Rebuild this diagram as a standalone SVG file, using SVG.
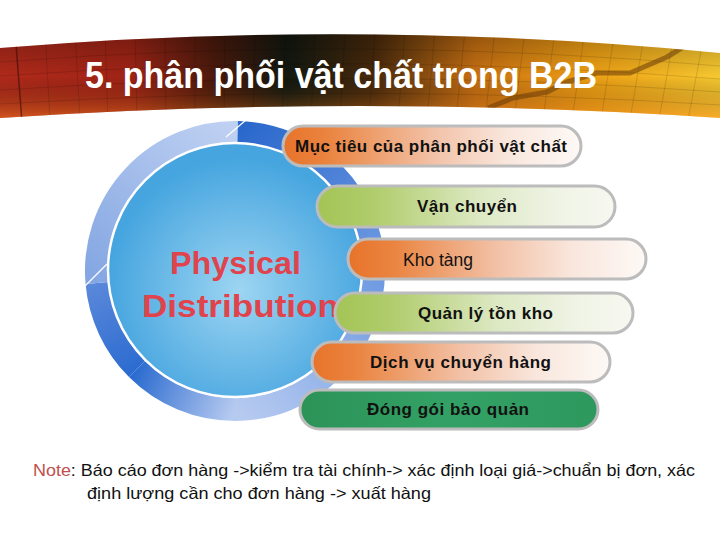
<svg xmlns="http://www.w3.org/2000/svg" width="720" height="540" viewBox="0 0 720 540">
<style>
.pill{stroke:#bcbcbc;stroke-width:3}
.lbl{font-family:"Liberation Sans",Arial,sans-serif;font-size:17px;font-weight:bold;fill:#111}
.lblr{font-family:"Liberation Sans",Arial,sans-serif;font-size:17.5px;fill:#111}
.ttl{font-family:"Liberation Sans",Arial,sans-serif;font-weight:bold;fill:#fff}
.pd{font-family:"Liberation Sans",Arial,sans-serif;font-size:32px;font-weight:bold;fill:#e0434c}
.note{font-family:"Liberation Sans",Arial,sans-serif;font-size:16.5px;fill:#111}
.grid{stroke:#000;stroke-opacity:0.13;stroke-width:1;fill:none}
.ring{fill:none;stroke-width:23}
</style>
<defs>
<linearGradient id="bannerH" x1="0" y1="0" x2="720" y2="0" gradientUnits="userSpaceOnUse">
<stop offset="0" stop-color="#b02a1a"/>
<stop offset="0.18" stop-color="#a02416"/>
<stop offset="0.3" stop-color="#4a1a0c"/>
<stop offset="0.4" stop-color="#121810"/>
<stop offset="0.52" stop-color="#4a2a0c"/>
<stop offset="0.66" stop-color="#c87012"/>
<stop offset="0.82" stop-color="#eea014"/>
<stop offset="1" stop-color="#f6c830"/>
</linearGradient>
<linearGradient id="bannerV" x1="0" y1="35" x2="0" y2="118" gradientUnits="userSpaceOnUse">
<stop offset="0" stop-color="#000" stop-opacity="0.25"/>
<stop offset="0.5" stop-color="#000" stop-opacity="0"/>
<stop offset="1" stop-color="#ff8a20" stop-opacity="0.45"/>
</linearGradient>
<clipPath id="bclip"><path d="M0 48 Q360 18 720 53 L720 118 Q360 94 0 118 Z"/></clipPath>
<linearGradient id="orange" x1="0" y1="0" x2="1" y2="0">
<stop offset="0" stop-color="#e8732a"/>
<stop offset="0.15" stop-color="#ea8440"/>
<stop offset="0.5" stop-color="#f2c1a6"/>
<stop offset="0.75" stop-color="#f9e6dc"/>
<stop offset="1" stop-color="#fdf9f6"/>
</linearGradient>
<linearGradient id="green" x1="0" y1="0" x2="1" y2="0">
<stop offset="0" stop-color="#a3c455"/>
<stop offset="0.2" stop-color="#b1cd6e"/>
<stop offset="0.55" stop-color="#dde9c4"/>
<stop offset="0.8" stop-color="#eff3e4"/>
<stop offset="1" stop-color="#f7f8f1"/>
</linearGradient>
<linearGradient id="dgreen" x1="0" y1="0" x2="1" y2="0">
<stop offset="0" stop-color="#2c9357"/>
<stop offset="0.5" stop-color="#33a165"/>
<stop offset="1" stop-color="#2e985d"/>
</linearGradient>
<radialGradient id="inner" cx="240" cy="290" r="132" gradientUnits="userSpaceOnUse">
<stop offset="0" stop-color="#9dd5f2"/>
<stop offset="1" stop-color="#46a5df"/>
</radialGradient>
<linearGradient id="r1" x1="237" y1="132" x2="373" y2="271" gradientUnits="userSpaceOnUse"><stop offset="0" stop-color="#2a68cc"/><stop offset="1" stop-color="#6f9ae2"/></linearGradient>
<linearGradient id="r2" x1="373" y1="271" x2="235" y2="409" gradientUnits="userSpaceOnUse"><stop offset="0" stop-color="#6f9ae2"/><stop offset="1" stop-color="#b6caf0"/></linearGradient>
<linearGradient id="r3" x1="235" y1="409" x2="137" y2="369" gradientUnits="userSpaceOnUse"><stop offset="0" stop-color="#b6caf0"/><stop offset="1" stop-color="#2c6cd0"/></linearGradient>
<linearGradient id="r4" x1="137" y1="369" x2="97" y2="283" gradientUnits="userSpaceOnUse"><stop offset="0" stop-color="#2c6cd0"/><stop offset="1" stop-color="#5a88da"/></linearGradient>
<linearGradient id="r5" x1="97" y1="283" x2="237" y2="132" gradientUnits="userSpaceOnUse"><stop offset="0" stop-color="#84a6e2"/><stop offset="0.5" stop-color="#a2bcea"/><stop offset="1" stop-color="#bfd1f2"/></linearGradient>
</defs>
<rect width="720" height="540" fill="#fff"/>

<g id="banner">
<path d="M0 48 Q360 18 720 53 L720 118 Q360 94 0 118 Z" fill="url(#bannerH)"/>
<path d="M0 48 Q360 18 720 53 L720 118 Q360 94 0 118 Z" fill="url(#bannerV)"/>
<g clip-path="url(#bclip)">
<path class="grid" d="M0 62 Q360 34 720 66 M0 76 Q360 50 720 79 M0 90 Q360 66 720 92 M0 104 Q360 82 720 105"/>
<path class="grid" d="M45 30 L50 120 M75 30 L80 120 M105 30 L108 120 M135 30 L137 120 M165 30 L166 120 M195 30 L195 120 M225 30 L224 120 M255 30 L253 120 M285 30 L282 120 M315 30 L311 120 M345 30 L340 120 M375 30 L369 120 M405 30 L398 120 M435 30 L427 120 M465 30 L456 120 M495 30 L485 120 M525 30 L514 120 M555 30 L543 120 M585 30 L572 120 M615 30 L601 120 M645 30 L630 120 M675 30 L659 120 M705 30 L688 120"/>
<path d="M16 44 L22 122" stroke="#3a0c06" stroke-opacity="0.6" stroke-width="1.5"/>
<path d="M488 108 L513 98 L547 92 L567 82 L597 73 L630 73 L667 57 L688 44" fill="none" stroke="#6a3a08" stroke-opacity="0.55" stroke-width="5" stroke-linejoin="round"/>
</g>
</g>

<g id="title">
<text class="ttl" x="85" y="88" font-size="36" textLength="512" lengthAdjust="spacingAndGlyphs">5. phân phối vật chất trong B2B</text>
</g>

<g id="hub">
<path class="ring" stroke="url(#r1)" d="M237.4 132.5 A138.5 138.5 0 0 1 373.5 271"/>
<path class="ring" stroke="url(#r2)" d="M373.5 271 A138.5 138.5 0 0 1 235 409.5"/>
<path class="ring" stroke="url(#r3)" d="M235 409.5 A138.5 138.5 0 0 1 137.1 368.9"/>
<path class="ring" stroke="url(#r4)" d="M137.1 368.9 A138.5 138.5 0 0 1 97 283.1"/>
<path class="ring" stroke="url(#r5)" d="M97 283.1 A138.5 138.5 0 0 1 237.4 132.5"/>
<path d="M246 120 L226 137 M85 286 L107 264" stroke="#fff" stroke-width="1.2"/>
<circle cx="235" cy="270" r="127" fill="url(#inner)" stroke="#fff" stroke-width="2.5"/>
<text class="pd" x="170" y="274" textLength="131" lengthAdjust="spacingAndGlyphs">Physical</text>
<text class="pd" x="142" y="317" textLength="197" lengthAdjust="spacingAndGlyphs">Distribution</text>
</g>

<g id="connectors"></g>

<g id="node-muc-tieu">
<rect class="pill" x="283" y="126" width="298" height="40" rx="20" fill="url(#orange)"/>
<text class="lbl" x="295" y="152" textLength="272">Mục tiêu của phân phối vật chất</text>
</g>
<g id="node-van-chuyen">
<rect class="pill" x="317" y="186" width="298" height="41" rx="20.5" fill="url(#green)"/>
<text class="lbl" x="417" y="212" textLength="100">Vận chuyển</text>
</g>
<g id="node-kho-tang">
<rect class="pill" x="348" y="239" width="298" height="40" rx="20" fill="url(#orange)"/>
<text class="lblr" x="403" y="266" textLength="70">Kho tàng</text>
</g>
<g id="node-quan-ly">
<rect class="pill" x="335" y="293" width="298" height="40" rx="20" fill="url(#green)"/>
<text class="lbl" x="418" y="319" textLength="135">Quản lý tồn kho</text>
</g>
<g id="node-dich-vu">
<rect class="pill" x="312" y="342" width="298" height="40" rx="20" fill="url(#orange)"/>
<text class="lbl" x="370" y="368" textLength="181">Dịch vụ chuyển hàng</text>
</g>
<g id="node-dong-goi">
<rect class="pill" x="300" y="390" width="298" height="39" rx="19.5" fill="url(#dgreen)"/>
<text class="lbl" x="367" y="415" textLength="162">Đóng gói bảo quản</text>
</g>

<g id="note">
<text class="note" x="33" y="476" textLength="662" lengthAdjust="spacingAndGlyphs"><tspan fill="#c0504d">Note</tspan>: Báo cáo đơn hàng -&gt;kiểm tra tài chính-&gt; xác định loại giá-&gt;chuẩn bị đơn, xác</text>
<text class="note" x="87" y="499" textLength="344" lengthAdjust="spacingAndGlyphs">định lượng cần cho đơn hàng -&gt; xuất hàng</text>
</g>
</svg>
